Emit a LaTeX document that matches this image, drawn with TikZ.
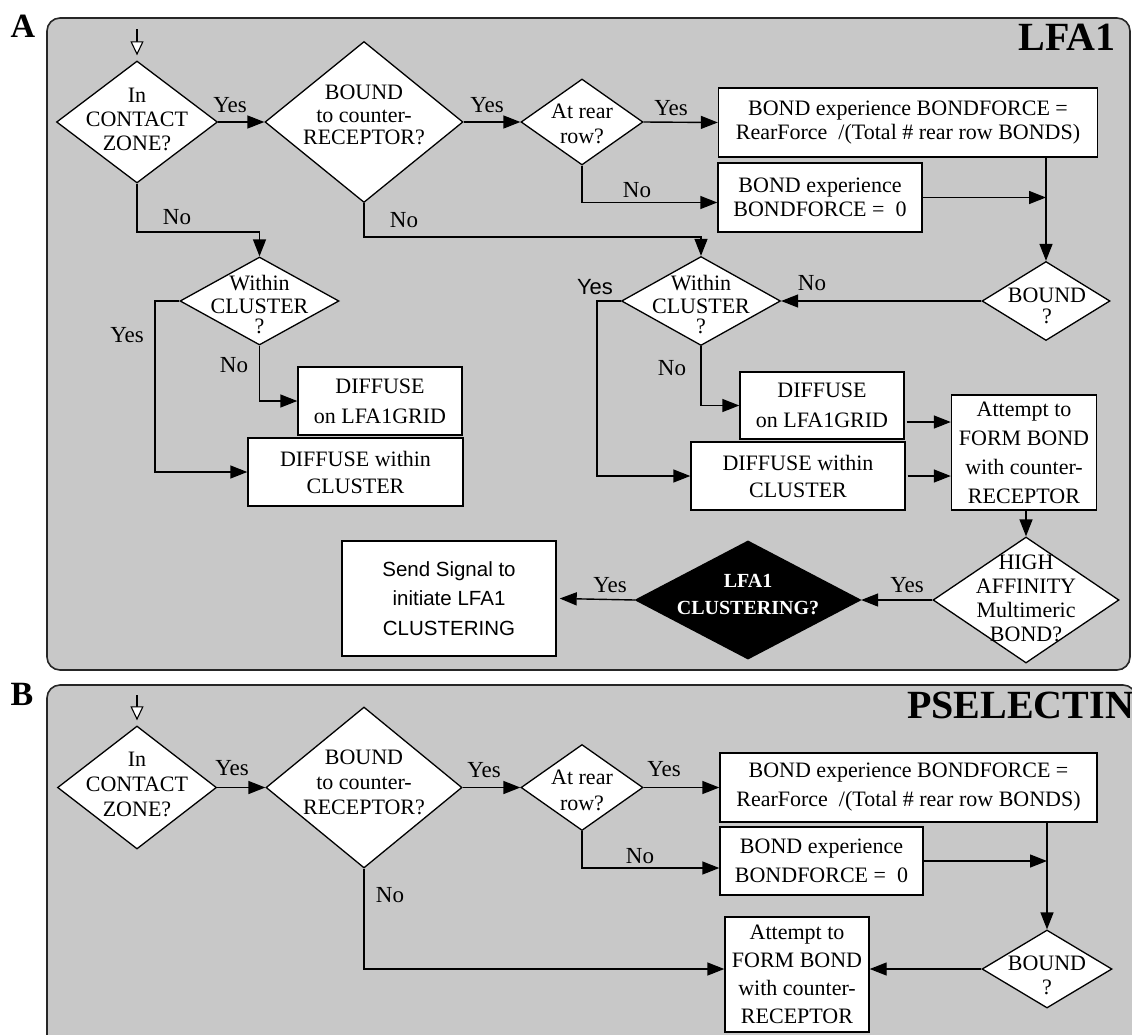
\documentclass[tikz,border=0pt]{standalone}
\usepackage{fontspec}
\setmainfont{Liberation Serif}
\newfontfamily\sansf{Liberation Sans}
\usetikzlibrary{shapes.geometric,arrows.meta}
\definecolor{panelgray}{RGB}{200,200,200}
\begin{document}
\begin{tikzpicture}[x=1pt,y=-1pt,
  conn/.style={line width=1.4pt},
  arr/.style={conn,-{Triangle[length=17pt,width=13pt]}},
  entry/.style={line width=1.1pt,-{Triangle[open,length=14pt,width=13pt,fill=white]},shorten >=5pt},
  box/.style={draw,fill=white,line width=1.4pt,inner sep=0pt,align=center,font=\fontsize{22}{24}\selectfont},
  dia/.style={diamond,draw,fill=white,line width=1.3pt,inner sep=0pt},
  txt/.style={inner sep=0pt,align=center,font=\fontsize{22}{24}\selectfont},
  lbl/.style={inner sep=0pt,font=\fontsize{23}{24}\selectfont},
  panel/.style={draw=black!85,fill=panelgray,line width=1.6pt,rounded corners=13pt},
  plabel/.style={inner sep=0pt,font=\bfseries\fontsize{34}{34}\selectfont},
  title/.style={inner sep=0pt,font=\bfseries\fontsize{40}{40}\selectfont}]
\useasboundingbox (0,0) rectangle (1132,1034);
% ---------------- Panel A ----------------
\draw[panel] (47,18) rectangle (1130,670);
\node[plabel] (labA) at (23,26) {A};
\node[title,anchor=base east] (titA) at (1116,50) {LFA1};
\coordinate (startA) at (137,29);
\node[dia,minimum width=161pt,minimum height=122pt] (d1) at (137,122) {};
\node[txt] (d1t) at (137,119) {In\\CONTACT\\ZONE?};
\node[dia,minimum width=198pt,minimum height=161pt] (d2) at (364,122) {};
\node[txt,font=\fontsize{22}{22.5}\selectfont] (d2t) at (364,115) {BOUND\\to counter-\\RECEPTOR?};
\node[dia,minimum width=122pt,minimum height=86pt] (d3) at (582,122) {};
\node[txt,font=\fontsize{22}{25}\selectfont] (d3t) at (582,124) {At rear\\row?};
\node[box,minimum width=379pt,minimum height=69pt] (b1) at (908,122.5) {BOND experience BONDFORCE =\\RearForce~~/(Total \# rear row BONDS)};
\node[box,font=\fontsize{22}{24.5}\selectfont,minimum width=204pt,minimum height=69pt] (b2) at (820,197.5) {BOND experience\\BONDFORCE =~~0};
\node[dia,minimum width=128pt,minimum height=79pt] (d4) at (1046,301) {};
\node[txt,font=\fontsize{22}{21}\selectfont] (d4t) at (1047,306) {BOUND\\?};
\node[dia,minimum width=159pt,minimum height=89pt] (d5) at (701,301) {};
\node[txt,font=\fontsize{22}{23}\selectfont] (d5t) at (701,305) {Within\\CLUSTER\\[-3pt]?};
\node[box,font=\fontsize{22}{30}\selectfont,minimum width=164pt,minimum height=67pt] (brl) at (822,405.5) {DIFFUSE\\on LFA1GRID};
\node[box,font=\fontsize{22}{27}\selectfont,minimum width=214pt,minimum height=68pt] (brw) at (798,476) {DIFFUSE within\\CLUSTER};
\node[box,font=\fontsize{22}{29}\selectfont,minimum width=145pt,minimum height=115pt] (batt) at (1024,452.5) {Attempt to\\FORM BOND\\with counter-\\RECEPTOR};
\node[dia,minimum width=186pt,minimum height=126pt] (d6) at (1026,600) {};
\node[txt] (d6t) at (1026,598) {HIGH\\AFFINITY\\Multimeric\\BOND?};
\node[dia,fill=black,minimum width=225pt,minimum height=118pt] (d7) at (748,600) {};
\node[txt,text=white,font=\bfseries\fontsize{20}{27}\selectfont] (d7t) at (748,595) {LFA1\\CLUSTERING?};
\node[box,font=\sansf\fontsize{20.5}{29.5}\selectfont,minimum width=214pt,minimum height=115pt] (bsig) at (449,598.5) {Send Signal to\\initiate LFA1\\CLUSTERING};
\node[dia,minimum width=159pt,minimum height=88pt] (d8) at (259.5,301) {};
\node[txt,font=\fontsize{22}{23}\selectfont] (d8t) at (259.5,305) {Within\\CLUSTER\\[-3pt]?};
\node[box,font=\fontsize{22}{30}\selectfont,minimum width=164pt,minimum height=68pt] (bll) at (380,401) {DIFFUSE\\on LFA1GRID};
\node[box,font=\fontsize{22}{27}\selectfont,minimum width=215pt,minimum height=68pt] (blw) at (355.5,472) {DIFFUSE within\\CLUSTER};
% labels A
\node[lbl] (y1) at (230,105) {Yes};
\node[lbl] (y2) at (487,105) {Yes};
\node[lbl] (y3) at (671,108) {Yes};
\node[lbl] (n3) at (637,190) {No};
\node[lbl] (n4) at (812,283) {No};
\node[lbl] (n2) at (404,220) {No};
\node[lbl,font=\sansf\fontsize{22}{24}\selectfont] (y5) at (595,287) {Yes};
\node[lbl] (n5) at (672,368) {No};
\node[lbl] (y6) at (907,585) {Yes};
\node[lbl] (y7) at (610,585) {Yes};
\node[lbl] (n1) at (177,217) {No};
\node[lbl] (y8) at (127,335) {Yes};
\node[lbl] (n8) at (234,365) {No};
% connectors A
\draw[entry] (startA) -- (d1.north);
\draw[arr] (d1.east) -- (d2.west);
\draw[arr] (d2.east) -- (d3.west);
\draw[arr] (d3.east) -- (b1.west);
\coordinate (b2in) at ([yshift=-5pt]b2.west);
\draw[arr] (d3.south) |- (b2in);
\draw[arr] (b1.south -| d4.north) -- (d4.north);
\draw[arr] (b2.east) -- (b2.east -| d4.north);
\draw[arr] (d4.west) -- (d5.east);
\coordinate (k2) at (0,237);
\draw[arr] (d2.south) -- (d2.south |- k2) -| (d5.north);
\coordinate (k5) at (597,0);
\draw[arr] (d5.west) -- (d5.west -| k5) |- (brw.west);
\draw[arr] (d5.south) |- (brl.west);
\coordinate (a1) at ([yshift=-16.5pt]brl.east);
\draw[arr] ([xshift=2pt]a1) -- (a1 -| batt.west);
\draw[arr] ([xshift=2pt]brw.east) -- (brw.east -| batt.west);
\draw[arr] (d6.north |- batt.south) -- (d6.north);
\draw[arr] (d6.west) -- (d7.east);
\coordinate (sigin) at ([xshift=3pt]bsig.east);
\draw[arr] (d7.west) -- (sigin);
\coordinate (k1) at (0,232);
\draw[arr] (d1.south) -- (d1.south |- k1) -| (d8.north);
\coordinate (k8) at (155,0);
\draw[arr] (d8.west) -- (d8.west -| k8) |- (blw.west);
\draw[arr] (d8.south) |- (bll.west);
% ---------------- Panel B ----------------
\draw[panel] (47,685) rectangle (1136,1080);
\node[plabel] (labB) at (22,694) {B};
\node[title,anchor=base west] (titB) at (907,718) {PSELECTIN};
\coordinate (startB) at (137,695);
\node[dia,minimum width=159pt,minimum height=123pt] (e1) at (137,787.5) {};
\node[txt,font=\fontsize{22}{25}\selectfont] (e1t) at (137,784) {In\\CONTACT\\ZONE?};
\node[dia,minimum width=196pt,minimum height=161pt] (e2) at (364,787.5) {};
\node[txt,font=\fontsize{22}{25}\selectfont] (e2t) at (364,782) {BOUND\\to counter-\\RECEPTOR?};
\node[dia,minimum width=122pt,minimum height=86pt] (e3) at (582,787.5) {};
\node[txt,font=\fontsize{22}{26}\selectfont] (e3t) at (582,790) {At rear\\row?};
\node[box,font=\fontsize{22}{29}\selectfont,minimum width=377pt,minimum height=69pt] (c1) at (908.5,787.5) {BOND experience BONDFORCE =\\RearForce~~/(Total \# rear row BONDS)};
\node[box,font=\fontsize{22}{29}\selectfont,minimum width=203pt,minimum height=68pt] (c2) at (821.5,861) {BOND experience\\BONDFORCE =~~0};
\node[dia,minimum width=130pt,minimum height=78pt] (e4) at (1047,969) {};
\node[txt,font=\fontsize{22}{24}\selectfont] (e4t) at (1047,975) {BOUND\\?};
\node[box,font=\fontsize{22}{28}\selectfont,minimum width=144pt,minimum height=115pt] (catt) at (797,974.5) {Attempt to\\FORM BOND\\with counter-\\RECEPTOR};
\node[lbl] (yb1) at (232,768) {Yes};
\node[lbl] (yb2) at (484,770) {Yes};
\node[lbl] (yb3) at (664,769) {Yes};
\node[lbl] (nb3) at (640,856) {No};
\node[lbl] (nb2) at (390,895) {No};
\draw[entry] (startB) -- (e1.north);
\draw[arr] (e1.east) -- (e2.west);
\draw[arr] (e2.east) -- (e3.west);
\draw[arr] (e3.east) -- (c1.west);
\coordinate (c2in) at ([yshift=-7pt]c2.west);
\draw[arr] (e3.south) |- (c2in);
\draw[arr] (c2.east) -- (c2.east -| e4.north);
\draw[arr] (c1.south -| e4.north) -- (e4.north);
\draw[arr] (e4.west) -- (e4.west -| catt.east);
\draw[arr] (e2.south) |- (e4.west -| catt.west);
\end{tikzpicture}
\end{document}
